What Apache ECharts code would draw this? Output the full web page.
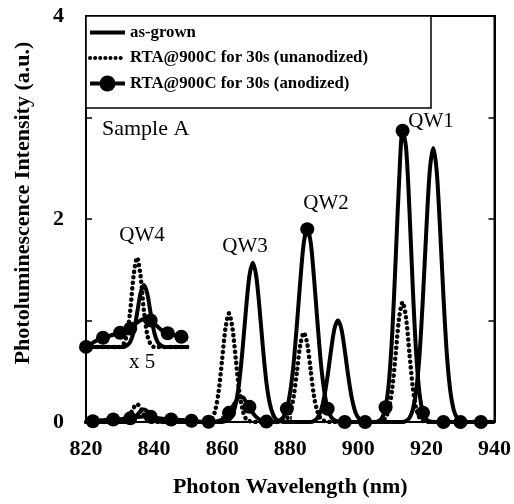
<!DOCTYPE html>
<html><head><meta charset="utf-8">
<script src="https://cdn.jsdelivr.net/npm/echarts@6/dist/echarts.min.js"></script>
<style>html,body{margin:0;padding:0;background:#fff}#c{width:514px;height:504px}</style>
</head><body><div id="c"></div>
<script>
// ---- data ----
const wavelengths = [
 820,821,822,823,824,825,826,827,828,829,
 830,831,832,833,834,835,836,837,838,839,
 840,841,842,843,844,845,846,847,848,849,
 850,851,852,853,854,855,856,857,858,859,
 860,861,862,863,864,865,866,867,868,869,
 870,871,872,873,874,875,876,877,878,879,
 880,881,882,883,884,885,886,887,888,889,
 890,891,892,893,894,895,896,897,898,899,
 900,901,902,903,904,905,906,907,908,909,
 910,911,912,913,914,915,916,917,918,919,
 920,921,922,923,924,925,926,927,928,929,
 930,931,932,933,934,935,936,937,938,939,
 940];
const asGrown = [
 0,0,0,0,0,0,0,0,0,0,
 0,0,0.003,0.010,0.030,0.066,0.105,0.122,0.105,0.066,
 0.030,0.010,0.003,0,0,0,0,0,0,0,
 0,0,0,0,0,0,0,0,0,0,
 0,0.01,0.02,0.07,0.18,0.39,0.72,1.11,1.44,1.57,
 1.44,1.11,0.72,0.39,0.18,0.07,0.02,0.01,0,0,
 0,0,0,0,0,0,0,0.01,0.04,0.11,
 0.25,0.46,0.71,0.92,1.00,0.92,0.71,0.46,0.25,0.11,
 0.04,0.01,0,0,0,0,0,0,0,0,
 0,0,0,0,0.01,0.04,0.12,0.31,0.67,1.24,
 1.91,2.48,2.70,2.48,1.91,1.24,0.67,0.31,0.12,0.04,
 0.01,0,0,0,0,0,0,0,0,0,
 0];
const unanodized = [
 0,0,0,0,0,0,0,0,0,0,
 0,0.005,0.024,0.072,0.141,0.176,0.141,0.072,0.024,0.005,
 0,0,0,0,0,0,0,0,0,0,
 0,0,0,0,0,0,0.01,0.03,0.12,0.31,
 0.62,0.93,1.07,0.93,0.62,0.31,0.12,0.03,0.01,0,
 0,0,0,0,0,0,0,0,0.01,0.03,
 0.10,0.25,0.51,0.77,0.88,0.77,0.51,0.25,0.10,0.03,
 0.01,0,0,0,0,0,0,0,0,0,
 0,0,0,0,0,0,0,0.01,0.04,0.13,
 0.34,0.68,1.03,1.18,1.03,0.68,0.34,0.13,0.04,0.01,
 0,0,0,0,0,0,0,0,0,0,
 0,0,0,0,0,0,0,0,0,0,
 0];
const anodized = [
 0,0.004,0.008,0.012,0.016,0.018,0.020,0.022,0.024,0.026,
 0.028,0.030,0.033,0.036,0.042,0.048,0.052,0.055,0.055,0.052,
 0.046,0.040,0.034,0.030,0.027,0.025,0.023,0.021,0.020,0.018,
 0.016,0.012,0.008,0.005,0.003,0.002,0.002,0.003,0.004,0.010,
 0.025,0.05,0.09,0.15,0.20,0.245,0.245,0.20,0.15,0.09,
 0.05,0.025,0.01,0.004,0,0,0.005,0.017,0.05,0.13,
 0.30,0.58,0.98,1.41,1.77,1.90,1.77,1.41,0.98,0.58,
 0.30,0.13,0.05,0.017,0.005,0,0,0,0,0,
 0,0,0,0,0,0,0.01,0.042,0.145,0.40,
 0.90,1.63,2.39,2.87,2.71,2.10,1.32,0.67,0.27,0.091,
 0.024,0.005,0,0,0,0,0,0,0,0,
 0,0,0,0,0,0,0,0,0,0,
 0];
const anodizedMarkerWl = [822,828,833,839,845,851,856,862,868,873,879,885,891,896,902,908,913,919,925,930,936];
const insetMarkerWl = [820,825,830,833,839,844,848];
const insetMaxWl = 850;     // inset shows the QW4 region
const insetScale = 5;       // "x 5"
const insetOffset = 0.74;   // inset baseline
const yLabelled = [0, 2, 4];

const NAME_AG = 'as-grown';
const NAME_UN = 'RTA@900C for 30s (unanodized)';
const NAME_AN = 'RTA@900C for 30s (anodized)';

// ---- build ----
const SERIF = "'Liberation Serif','DejaVu Serif',serif";
const pairs = v => wavelengths.map((w, i) => [w, v[i]]);
const insetPairs = v => wavelengths.filter(w => w <= insetMaxWl).map((w, i) => [w, insetOffset + insetScale * v[i]]);
const withMarkers = (pts, mk) => pts.map(p => ({ value: p, symbol: mk.includes(p[0]) ? 'circle' : 'none' }));

const solid = { color: '#000', width: 4 };
const dotted = { color: '#000', width: 4.5, type: [0.1, 5.5], cap: 'round' };

function lineSeries(name, data, style, extra) {
  return Object.assign({
    name, type: 'line', data, smooth: 0.3, symbol: 'none',
    lineStyle: style, itemStyle: { color: '#000' }, color: '#000',
    emphasis: { disabled: true }, silent: true
  }, extra || {});
}

const axisCommon = {
  type: 'value',
  axisLine: { show: true, onZero: false, lineStyle: { color: '#000', width: 2 } },
  axisTick: { show: true, inside: true, length: 6, lineStyle: { color: '#000', width: 1.5 } },
  splitLine: { show: false }
};
const labelFont = { fontFamily: SERIF, fontWeight: 'bold', fontSize: 22, color: '#000' };

const chart = echarts.init(document.getElementById('c'), null, { renderer: 'canvas' });
chart.setOption({
  animation: false,
  backgroundColor: '#fff',
  grid: { left: 86, right: 17, top: 16, bottom: 82, show: true, borderColor: '#000', borderWidth: 2 },
  xAxis: [
    Object.assign({}, axisCommon, {
      min: 820, max: 940, interval: 20, position: 'bottom',
      axisLabel: Object.assign({ margin: 16 }, labelFont),
      name: 'Photon Wavelength (nm)', nameLocation: 'middle', nameGap: 54,
      nameTextStyle: labelFont
    }),
    Object.assign({}, axisCommon, { min: 820, max: 940, interval: 20, position: 'top', axisLabel: { show: false } })
  ],
  yAxis: [
    Object.assign({}, axisCommon, {
      min: 0, max: 4, interval: 1, position: 'left',
      axisLabel: Object.assign({ margin: 22, formatter: v => yLabelled.includes(v) ? String(v) : '' }, labelFont)
    }),
    Object.assign({}, axisCommon, { min: 0, max: 4, interval: 1, position: 'right', axisLabel: { show: false } })
  ],
  legend: {
    orient: 'vertical', left: 86, top: 16, z: 20,
    itemWidth: 35, itemHeight: 20, itemGap: 8.5,
    padding: [8, 63, 16, 2],
    borderColor: '#000', borderWidth: 1.5, backgroundColor: '#fff',
    selectedMode: false,
    textStyle: { fontFamily: SERIF, fontWeight: 'bold', fontSize: 16.8, color: '#000' },
    data: [
      { name: NAME_AG, itemStyle: { opacity: 0 }, lineStyle: { width: 4 } },
      { name: NAME_UN, itemStyle: { opacity: 0 }, lineStyle: { width: 4, type: [0.1, 5], cap: 'round' } },
      { name: NAME_AN, lineStyle: { width: 4 } }
    ]
  },
  series: [
    lineSeries(NAME_AG, pairs(asGrown), solid, { z: 3 }),
    lineSeries(NAME_UN, pairs(unanodized), dotted, { z: 4 }),
    lineSeries(NAME_AN, withMarkers(pairs(anodized), anodizedMarkerWl), solid, { z: 5, symbol: 'circle', symbolSize: 14 }),
    lineSeries('inset-ag', insetPairs(asGrown), solid, { z: 3 }),
    lineSeries('inset-un', insetPairs(unanodized), dotted, { z: 4 }),
    lineSeries('inset-an', withMarkers(insetPairs(anodized), insetMarkerWl), solid, { z: 5, symbol: 'circle', symbolSize: 14 })
  ],
  graphic: [
    { type: 'text', x: 23, y: 203, rotation: Math.PI / 2,
      style: { text: 'Photoluminescence Intensity (a.u.)', font: "bold 22px 'Liberation Serif'", fill: '#000', textAlign: 'center', textVerticalAlign: 'middle' } },
    { type: 'text', x: 102, y: 129, style: { text: 'Sample A', font: "22px 'Liberation Serif'", fill: '#000', textAlign: 'left', textVerticalAlign: 'middle' } },
    { type: 'text', x: 431, y: 121, style: { text: 'QW1', font: "21px 'Liberation Serif'", fill: '#000', textAlign: 'center', textVerticalAlign: 'middle' } },
    { type: 'text', x: 326, y: 203, style: { text: 'QW2', font: "21px 'Liberation Serif'", fill: '#000', textAlign: 'center', textVerticalAlign: 'middle' } },
    { type: 'text', x: 245, y: 246, style: { text: 'QW3', font: "21px 'Liberation Serif'", fill: '#000', textAlign: 'center', textVerticalAlign: 'middle' } },
    { type: 'text', x: 142, y: 235, style: { text: 'QW4', font: "21px 'Liberation Serif'", fill: '#000', textAlign: 'center', textVerticalAlign: 'middle' } },
    { type: 'text', x: 142, y: 362, style: { text: 'x 5', font: "21px 'Liberation Serif'", fill: '#000', textAlign: 'center', textVerticalAlign: 'middle' } }
  ]
});
</script></body></html>
